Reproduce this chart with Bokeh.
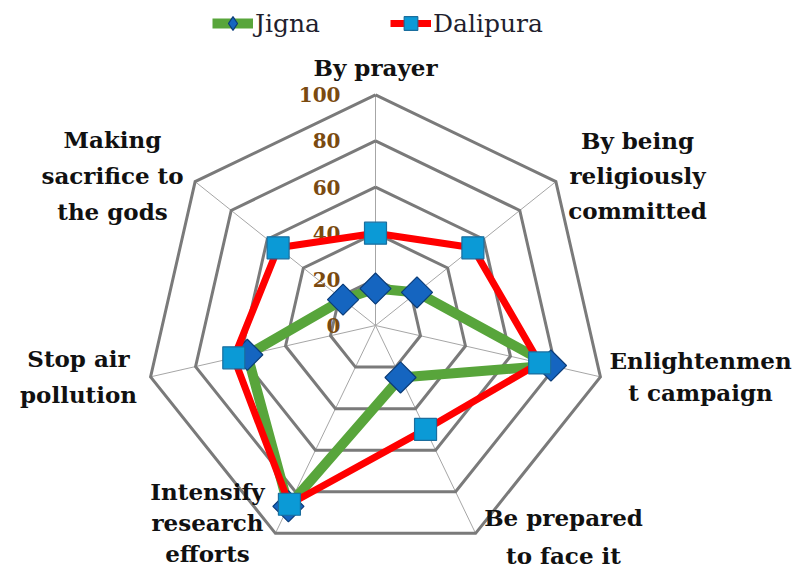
import numpy as np
from bokeh.plotting import figure
from bokeh.models import Range1d, Legend, LegendItem
from bokeh.core.properties import value
from bokeh.embed import file_html
from bokeh.resources import INLINE

# ---------------- data ----------------
categories = ["By prayer", "By being religiously committed", "Enlightenment campaign",
              "Be prepared to face it", "Intensify research efforts", "Stop air pollution",
              "Making sacrifice to the gods"]
category_labels = ["By prayer", "By being\nreligiously\ncommitted", "Enlightenmen\nt campaign",
                   "Be prepared\nto face it", "Intensify\nresearch\nefforts", "Stop air\npollution",
                   "Making\nsacrifice to\nthe gods"]
jigna = [16, 23, 78, 25, 87, 57, 18]
dalipura = [40, 54, 73, 50, 86, 63, 54]
ring_values = [20, 40, 60, 80, 100]
tick_values = [0, 20, 40, 60, 80, 100]
tick_labels = ["0", "20", "40", "60", "80", "100"]

# ---------------- layout ----------------
W, H = 793, 569
CXR, CYR = 375.0, 325.0      # center of radar (pixels from top-left)
S = 2.307                    # pixels per unit
def px(X, Y):
    return ((X - CXR) / S, (CYR - Y) / S)

# label anchor points (pixels, text block centers) and line heights
label_pos = [(375, 67), (637, 175), (700, 376), (563, 536), (207, 522), (78, 376), (112, 175)]
label_lh = [1.3, 1.31, 1.2, 1.38, 1.16, 1.31, 1.33]

n = len(categories)
ang = np.array([i * 2 * np.pi / n for i in range(n)])
def polar(vals):
    v = np.asarray(vals, dtype=float)
    return v * np.sin(ang), v * np.cos(ang)

p = figure(width=W, height=H, output_backend="svg", toolbar_location=None,
           x_range=Range1d((0 - CXR) / S, (W - CXR) / S),
           y_range=Range1d((CYR - H) / S, CYR / S),
           x_axis_type=None, y_axis_type=None, min_border=0)
p.grid.visible = False
p.outline_line_color = None
p.background_fill_color = "white"
p.border_fill_color = "white"

# spokes
sx, sy = polar([100] * n)
p.segment(x0=[0] * n, y0=[0] * n, x1=list(sx), y1=list(sy), line_color="#a6a6a6", line_width=1)

# rings
rxs, rys = [], []
for r in ring_values:
    x, y = polar([r] * n)
    rxs.append(list(x) + [x[0]])
    rys.append(list(y) + [y[0]])
p.multi_line(xs=rxs, ys=rys, line_color="#7a7a7a", line_width=3, line_join="miter")

# tick labels
tx = [-35 / S] * len(tick_values)
p.text(x=tx, y=tick_values, text=tick_labels, text_align="right", text_baseline="middle",
       text_font=value("DejaVu Serif"), text_font_style="bold", text_font_size="20px",
       text_color="#7a4a10")

# series
jx, jy = polar(jigna)
dx, dy = polar(dalipura)
jl = p.line(x=list(jx) + [jx[0]], y=list(jy) + [jy[0]], line_color="#58a53b", line_width=10,
            line_join="round")
# diamond glyph (hidden beneath the rotated squares) used as the legend sample
jleg = p.scatter(x=list(jx), y=list(jy), marker="diamond", size=22,
                 fill_color="#1565c0", line_color="#0b3c78", line_width=1.2)
jm = p.scatter(x=list(jx), y=list(jy), marker="square", size=22, angle=np.pi / 4,
               fill_color="#1565c0", line_color="#0b3c78", line_width=1.2)
dl = p.line(x=list(dx) + [dx[0]], y=list(dy) + [dy[0]], line_color="#ff0000", line_width=7,
            line_join="round")
dm = p.scatter(x=list(dx), y=list(dy), marker="square", size=22,
               fill_color="#0b9ad6", line_color="#1a6e9e", line_width=1.2)

# category labels
for (X, Y), txt, lh in zip(label_pos, category_labels, label_lh):
    lx, ly = px(X, Y)
    p.text(x=[lx], y=[ly], text=[txt], text_align="center", text_baseline="middle",
           text_font=value("DejaVu Serif"), text_font_style="bold", text_font_size="23px",
           text_color="#111111", text_line_height=lh)

legend = Legend(items=[LegendItem(label="Jigna", renderers=[jl, jleg]),
                       LegendItem(label="Dalipura", renderers=[dl, dm])],
                orientation="horizontal", location=(212, 529),
                glyph_width=41, glyph_height=34, label_standoff=2, spacing=70,
                padding=0, margin=0, border_line_alpha=0, background_fill_alpha=0,
                label_text_font="DejaVu Serif", label_text_font_size="25px",
                label_text_color="#1f1f2e")
p.add_layout(legend, "center")

open("out.html", "w").write(file_html(p, INLINE))
